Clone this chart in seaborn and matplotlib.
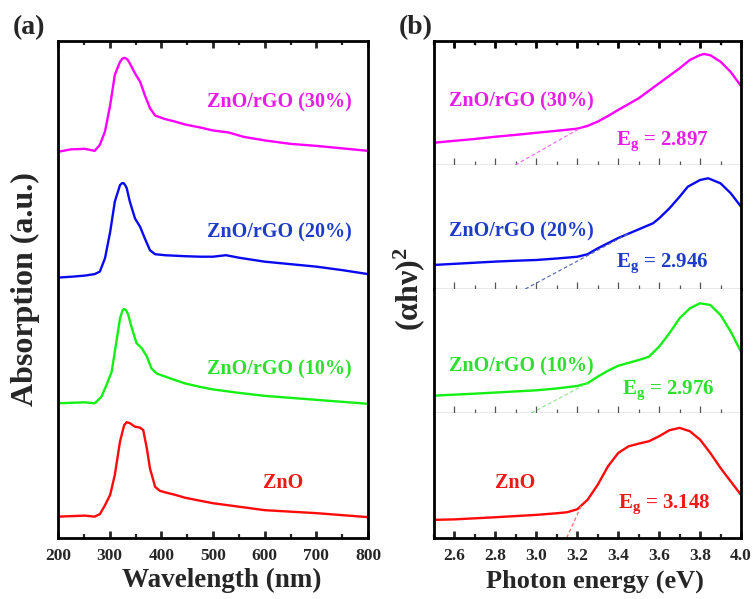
import numpy as np
import pandas as pd
import matplotlib
matplotlib.use("Agg")
import matplotlib.pyplot as plt
import matplotlib.image as mpimg
import seaborn as sns

# ---------------- (a) UV-vis absorption spectra (stacked, a.u.) ----------------
wl_30 = [200, 225, 252, 271, 281, 291, 301, 310, 320, 325, 330, 335, 339, 349, 359, 368, 378,
         388, 407, 426, 446, 475, 500, 530, 560, 600, 650, 700, 750, 800]
abs_30 = [7.77, 7.82, 7.83, 7.79, 7.91, 8.18, 8.71, 9.32, 9.58, 9.65, 9.66, 9.62, 9.55, 9.35,
          9.18, 8.91, 8.65, 8.50, 8.43, 8.38, 8.32, 8.26, 8.20, 8.16, 8.07, 8.00, 7.93, 7.89,
          7.84, 7.79]

wl_20 = [200, 230, 252, 271, 281, 291, 301, 310, 320, 324, 327, 330, 333, 339, 349, 359, 368,
         378, 388, 407, 426, 446, 475, 500, 525, 550, 600, 650, 700, 750, 800]
abs_20 = [5.24, 5.26, 5.28, 5.31, 5.36, 5.63, 6.16, 6.77, 7.10, 7.14, 7.14, 7.10, 7.04, 6.77,
          6.43, 6.26, 6.03, 5.79, 5.71, 5.69, 5.68, 5.67, 5.66, 5.66, 5.69, 5.64, 5.56, 5.51,
          5.46, 5.39, 5.31]

wl_10 = [200, 225, 252, 271, 284, 294, 304, 313, 320, 325, 328, 332, 336, 343, 352, 362, 372,
         381, 391, 407, 426, 446, 475, 500, 550, 600, 650, 700, 750, 800]
abs_10 = [2.71, 2.72, 2.73, 2.71, 2.84, 3.08, 3.35, 3.95, 4.42, 4.58, 4.61, 4.58, 4.49, 4.22,
          3.92, 3.82, 3.65, 3.41, 3.31, 3.25, 3.18, 3.11, 3.04, 2.99, 2.92, 2.86, 2.82, 2.78,
          2.74, 2.70]

wl_zno = [200, 225, 252, 271, 281, 291, 301, 310, 320, 328, 333, 339, 349, 359, 365, 372, 378,
          388, 397, 407, 426, 446, 475, 500, 550, 600, 650, 700, 750, 800]
abs_zno = [0.43, 0.44, 0.45, 0.43, 0.48, 0.66, 0.87, 1.27, 1.94, 2.27, 2.33, 2.31, 2.24, 2.22,
           2.17, 1.80, 1.40, 1.03, 0.95, 0.92, 0.87, 0.81, 0.75, 0.70, 0.63, 0.56, 0.53, 0.50,
           0.46, 0.42]

# ---------------- (b) Tauc plots, (alpha h nu)^2 normalised per sample ----------------
ev_30 = [2.5, 2.6, 2.7, 2.8, 2.9, 3.0, 3.1, 3.2, 3.25, 3.3, 3.35, 3.4, 3.5, 3.6, 3.7, 3.75,
         3.8, 3.82, 3.85, 3.9, 3.95, 4.0]
tauc_30 = [0.18, 0.195, 0.21, 0.228, 0.243, 0.26, 0.276, 0.293, 0.315, 0.35, 0.395, 0.444,
           0.538, 0.659, 0.78, 0.847, 0.887, 0.895, 0.885, 0.833, 0.75, 0.637]

ev_20 = [2.5, 2.6, 2.7, 2.8, 2.9, 3.0, 3.1, 3.2, 3.25, 3.3, 3.4, 3.5, 3.57, 3.6, 3.65, 3.7,
         3.74, 3.8, 3.84, 3.9, 3.95, 4.0]
tauc_20 = [0.194, 0.203, 0.212, 0.221, 0.228, 0.234, 0.246, 0.26, 0.28, 0.328, 0.411, 0.481,
           0.53, 0.57, 0.65, 0.744, 0.825, 0.879, 0.893, 0.852, 0.772, 0.664]

ev_10 = [2.5, 2.6, 2.7, 2.8, 2.9, 3.0, 3.1, 3.2, 3.25, 3.3, 3.35, 3.4, 3.5, 3.55, 3.6, 3.65,
         3.7, 3.75, 3.8, 3.85, 3.9, 3.95, 4.0]
tauc_10 = [0.14, 0.148, 0.156, 0.165, 0.174, 0.183, 0.198, 0.218, 0.24, 0.293, 0.341, 0.381,
           0.427, 0.454, 0.535, 0.643, 0.764, 0.844, 0.885, 0.871, 0.79, 0.656, 0.494]

ev_zno = [2.5, 2.6, 2.8, 3.0, 3.1, 3.15, 3.2, 3.25, 3.3, 3.35, 3.4, 3.45, 3.5, 3.55, 3.6,
          3.65, 3.7, 3.75, 3.8, 3.85, 3.9, 3.95, 4.0]
tauc_zno = [0.145, 0.149, 0.166, 0.185, 0.198, 0.206, 0.23, 0.305, 0.426, 0.573, 0.68, 0.733,
            0.755, 0.774, 0.814, 0.862, 0.881, 0.854, 0.787, 0.68, 0.56, 0.452, 0.345]

labels = ["ZnO/rGO (30%)", "ZnO/rGO (20%)", "ZnO/rGO (10%)", "ZnO"]
band_gaps = [2.897, 2.946, 2.976, 3.148]
tangent_ends = [3.22, 3.45, 3.25, 3.22]   # where each extrapolated edge meets its curve

line_colors = ["#FF00FF", "#0A0AF0", "#14F014", "#FF0A0A"]
text_colors = ["#E81CE8", "#1E3CC8", "#2EE02E", "#F01818"]
dash_colors = ["#F070F0", "#6070B0", "#90E890", "#F07070"]

sns.set_style("ticks")
plt.rcParams["font.family"] = ["Liberation Serif", "DejaVu Serif"]
plt.rcParams["font.weight"] = "bold"
plt.rcParams["mathtext.fontset"] = "custom"
plt.rcParams["mathtext.rm"] = "Liberation Serif:bold"
plt.rcParams["mathtext.it"] = "Liberation Serif:bold"
plt.rcParams["mathtext.bf"] = "Liberation Serif:bold"

W, H = 754, 599
fig = plt.figure(figsize=(W / 100, H / 100), dpi=100)

def fx(px):
    return px / W

def fy(py):
    return 1 - py / H

FRAME_LW = 2.0
TICK_FS = 12.5
GRID_GRAY = "#555555"
E_MAJOR = np.arange(2.6, 4.01, 0.2)
E_MINOR = np.arange(2.5, 4.0, 0.2)

# ---------------- panel (a) ----------------
ax_a = fig.add_axes([fx(58), fy(538), fx(368) - fx(58), fy(41) - fy(538)])
spectra = [(wl_30, abs_30), (wl_20, abs_20), (wl_10, abs_10), (wl_zno, abs_zno)]
for (wl, ab), c in zip(spectra, line_colors):
    df = pd.DataFrame({"wl": wl, "a": ab})
    sns.lineplot(data=df, x="wl", y="a", ax=ax_a, color=c, linewidth=1.7, sort=False)

ax_a.set_xlim(200, 800)
ax_a.set_ylim(0, 10)
ax_a.set_xticks(np.arange(200, 801, 100))
ax_a.set_xticks(np.arange(250, 800, 100), minor=True)
ax_a.set_yticks([])
ax_a.tick_params(axis="x", which="major", direction="in", length=5, width=2.0,
                 top=True, bottom=True, labelsize=TICK_FS, pad=7)
ax_a.tick_params(axis="x", which="minor", direction="in", length=3, width=1.6,
                 top=True, bottom=True)
for lab in ax_a.get_xticklabels():
    lab.set_fontweight("bold")
for s in ax_a.spines.values():
    s.set_linewidth(FRAME_LW)
    s.set_color("black")
ax_a.set_xlabel("")
ax_a.set_ylabel("")

label_pos_a = [(628, 8.67), (628, 6.05), (628, 3.28), (635, 1.0)]
for (x, y), t, c in zip(label_pos_a, labels, text_colors):
    ax_a.text(x, y, t, color=c, fontsize=14.5, fontweight="bold", ha="center", va="baseline")

# ---------------- panel (b) ----------------
edges = [41, 165, 289, 413, 538]
tauc = [(ev_30, tauc_30), (ev_20, tauc_20), (ev_10, tauc_10), (ev_zno, tauc_zno)]
label_pos_b = [(2.927, 0.47), (2.927, 0.42), (2.927, 0.333), (2.894, 0.40)]
eg_pos = [(3.39, 0.161), (3.39, 0.18), (3.417, 0.151), (3.40, 0.239)]

axes_b = []
for i in range(4):
    top, bot = edges[i], edges[i + 1]
    ax = fig.add_axes([fx(434), fy(bot), fx(741) - fx(434), fy(top) - fy(bot)])
    axes_b.append(ax)
    ev, tv = tauc[i]
    df = pd.DataFrame({"E": ev, "T": tv})
    sns.lineplot(data=df, x="E", y="T", ax=ax, color=line_colors[i], linewidth=1.7, sort=False)

    # linear extrapolation of the absorption edge down to the energy axis
    e_end = tangent_ends[i]
    t_end = float(np.interp(e_end, ev, tv))
    tan_df = pd.DataFrame({"E": [band_gaps[i], e_end], "T": [0.0, t_end]})
    sns.lineplot(data=tan_df, x="E", y="T", ax=ax, color=dash_colors[i], linewidth=0.9,
                 linestyle=(0, (3, 2)))

    ax.set_xlim(2.5, 4.0)
    ax.set_ylim(0, 1)
    ax.set_yticks([])
    ax.set_xticks(E_MAJOR)
    ax.set_xticks(E_MINOR, minor=True)
    ax.set_xlabel("")
    ax.set_ylabel("")

    for side in ("left", "right"):
        ax.spines[side].set_linewidth(FRAME_LW)
        ax.spines[side].set_color("black")

    if i == 0:
        ax.spines["top"].set_linewidth(FRAME_LW)
        ax.spines["top"].set_color("black")
    else:
        ax.spines["top"].set_visible(False)

    if i == 3:
        ax.spines["bottom"].set_linewidth(FRAME_LW)
        ax.spines["bottom"].set_color("black")
        ax.tick_params(axis="x", which="major", direction="in", length=5, width=2.0,
                       bottom=True, top=False, labelsize=TICK_FS, pad=7)
        ax.tick_params(axis="x", which="minor", direction="in", length=3, width=1.6,
                       bottom=True, top=False)
        for lab in ax.get_xticklabels():
            lab.set_fontweight("bold")
    else:
        ax.spines["bottom"].set_linewidth(0.9)
        ax.spines["bottom"].set_color(GRID_GRAY)
        ax.tick_params(axis="x", which="major", direction="in", length=5, width=0.9,
                       color=GRID_GRAY, bottom=True, top=(i == 0), labelbottom=False)
        ax.tick_params(axis="x", which="minor", direction="in", length=3, width=0.9,
                       color=GRID_GRAY, bottom=True, top=(i == 0))

    lx, ly = label_pos_b[i]
    ax.text(lx, ly, labels[i], color=text_colors[i], fontsize=14.5, fontweight="bold",
            ha="center", va="baseline")
    ex, ey = eg_pos[i]
    ax.text(ex, ey, "E$_{\\mathrm{g}}$ = %.3f" % band_gaps[i], color=text_colors[i],
            fontsize=15, fontweight="bold", ha="left", va="baseline")

# heavier black tick marks along the outer top edge of panel (b)
ax_top = axes_b[0]
xt = ax_top.get_xaxis_transform()
ax_top.vlines(E_MAJOR, 1 - 7 / 124, 1, transform=xt, colors="black", linewidth=2.0,
              clip_on=False, zorder=5)
ax_top.vlines(E_MINOR, 1 - 4 / 124, 1, transform=xt, colors="black", linewidth=1.6,
              clip_on=False, zorder=5)

# ---------------- shared text ----------------
fig.text(fx(25), fy(289), "Absorption (a.u.)", rotation=90, ha="center", va="center",
         fontsize=23, fontweight="bold")
fig.text(fx(409), fy(289), "(\u03b1h\u03bd)$^{\\mathrm{2}}$", rotation=90, ha="center",
         va="center", fontsize=23, fontweight="bold")
fig.text(fx(222), fy(580), "Wavelength (nm)", ha="center", va="center",
         fontsize=19.5, fontweight="bold")
fig.text(fx(595), fy(581), "Photon energy (eV)", ha="center", va="center",
         fontsize=19, fontweight="bold")
fig.text(fx(13), fy(28), "(a)", ha="left", va="center", fontsize=20, fontweight="bold")
fig.text(fx(399), fy(28), "(b)", ha="left", va="center", fontsize=20, fontweight="bold")

fig.savefig("out.png", dpi=100)
